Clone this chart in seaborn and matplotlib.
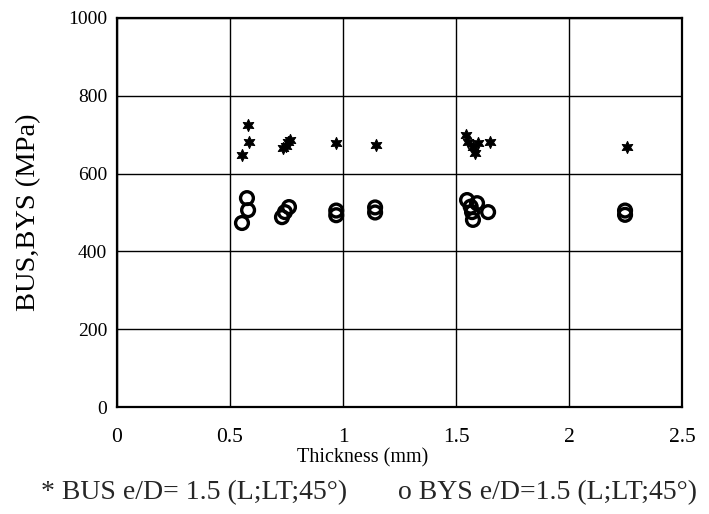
import matplotlib
matplotlib.use("Agg")
import matplotlib.pyplot as plt
import seaborn as sns
import pandas as pd

# BUS (stars) data
bus_thickness = [0.553, 0.580, 0.584, 0.735, 0.748, 0.757, 0.765, 0.969, 1.146,
                 1.544, 1.553, 1.575, 1.584, 1.597, 1.650, 2.257]
bus_mpa = [648, 725, 681, 666, 671, 681, 686, 679, 673,
           699, 681, 668, 653, 678, 681, 668]

# BYS (open circles) data
bys_thickness = [0.553, 0.575, 0.580, 0.730, 0.743, 0.761, 0.970, 0.970, 1.142, 1.142,
                 1.549, 1.565, 1.571, 1.575, 1.593, 1.642, 2.248, 2.248]
bys_mpa = [473, 537, 506, 488, 501, 514, 493, 505, 500, 513,
           532, 515, 501, 481, 524, 501, 494, 505]

x_ticks = [0, 0.5, 1, 1.5, 2, 2.5]
x_tick_labels = ["0", "0.5", "1", "1.5", "2", "2.5"]
y_ticks = [0, 200, 400, 600, 800, 1000]

legend_bus = "* BUS e/D= 1.5 (L;LT;45°)"
legend_bys = "o BYS e/D=1.5 (L;LT;45°)"

sns.set_style("white")
plt.rcParams['font.family'] = ['Liberation Serif', 'DejaVu Serif']

fig = plt.figure(figsize=(7.09, 5.14), dpi=100)
ax = fig.add_axes([117/709, 1 - 407/514, (682-117)/709, (407-18)/514])

bus_df = pd.DataFrame({"t": bus_thickness, "v": bus_mpa})
bys_df = pd.DataFrame({"t": bys_thickness, "v": bys_mpa})

sns.scatterplot(data=bys_df, x="t", y="v", ax=ax, marker="o", s=85,
                facecolor="none", edgecolor="black", linewidth=2.4, zorder=3)
sns.scatterplot(data=bus_df, x="t", y="v", ax=ax, marker=(6, 1, 0), s=75,
                color="black", edgecolor="black", linewidth=0.8, zorder=4)

ax.set_xlim(0, 2.5)
ax.set_ylim(0, 1000)
ax.set_xticks(x_ticks)
ax.set_xticklabels(x_tick_labels)
ax.set_yticks(y_ticks)
ax.grid(True, color="black", linewidth=1.0)
ax.set_axisbelow(True)
for sp in ax.spines.values():
    sp.set_visible(True)
    sp.set_color("black")
    sp.set_linewidth(1.6)
ax.tick_params(axis="both", length=0, colors="black")
ax.tick_params(axis="x", pad=15, labelsize=15.5)
ax.tick_params(axis="y", pad=7, labelsize=14)

ax.set_xlabel("Thickness (mm)", fontsize=14.5, color="black")
ax.xaxis.set_label_coords((363-117)/(682-117), -0.105)
ax.set_ylabel("BUS,BYS (MPa)", fontsize=20.5, color="black")
ax.yaxis.set_label_coords((41-117)/(682-117), 0.5)

fig.text(41/709, 1 - 493/514, legend_bus, fontsize=20, va="center", ha="left")
fig.text(398/709, 1 - 493/514, legend_bys, fontsize=20, va="center", ha="left")

fig.savefig("out.png", dpi=100)
